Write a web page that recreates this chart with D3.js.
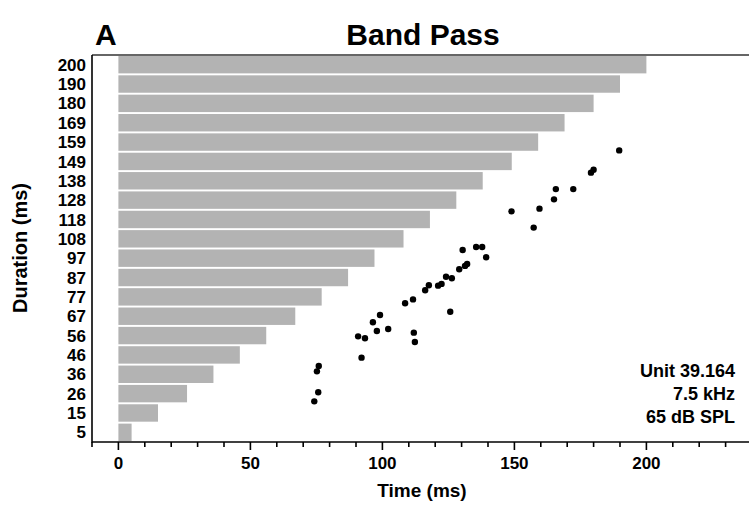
<!DOCTYPE html>
<html>
<head>
<meta charset="utf-8">
<script src="https://cdn.jsdelivr.net/npm/d3@7"></script>
<style>
  html, body { margin: 0; padding: 0; background: #fff; }
  text { font-family: "Liberation Sans", Arial, Helvetica, sans-serif; font-weight: bold; fill: #000; }
</style>
</head>
<body>
<svg id="chart" width="749" height="506"></svg>
<script>
// ---- data ----
const durations = [5, 15, 26, 36, 46, 56, 67, 77, 87, 97, 108, 118, 128, 138, 149, 159, 169, 180, 190, 200];
const durationLabels = ["5","15","26","36","46","56","67","77","87","97","108","118","128","138","149","159","169","180","190","200"];
// spike times (ms) and their vertical trial position in row units (row i spans i..i+1, row 0 = 5 ms)
const spikeTimes = [189.7, 180.0, 179.0, 172.3, 165.7, 165.0, 159.5, 148.9, 157.3,
  130.4, 135.5, 137.8, 139.3, 132.1, 131.3, 129.1, 126.3, 124.1, 122.4, 121.1,
  117.6, 116.2, 111.6, 108.6, 125.7, 99.1, 96.4, 97.9, 102.2, 90.8, 93.4,
  111.9, 112.3, 92.1, 75.9, 75.2, 75.7, 74.2];
const spikeRows = [15.07, 14.07, 13.92, 13.07, 13.07, 12.54, 12.06, 11.92, 11.08,
  9.92, 10.08, 10.08, 9.55, 9.20, 9.10, 8.93, 8.46, 8.54, 8.17, 8.08,
  8.10, 7.84, 7.37, 7.17, 6.73, 6.56, 6.19, 5.74, 5.84, 5.46, 5.36,
  5.65, 5.17, 4.36, 3.93, 3.65, 2.57, 2.10];
const xTicksMajor = [0, 50, 100, 150, 200];
const xTicksAll = [-10,0,10,20,30,40,50,60,70,80,90,100,110,120,130,140,150,160,170,180,190,200,210,220,230,240];
const title = "Band Pass";
const panelLabel = "A";
const infoLines = ["Unit 39.164", "7.5 kHz", "65 dB SPL"];

(function () {
// ---- layout ----
const svg = d3.select("#chart");
const mLeft = 92, mRight = 749, mTop = 55, mBottom = 442;

const x = d3.scaleLinear().domain([-10, 240]).range([mLeft, mLeft + 250 * 2.64]);
const y = d3.scaleBand().domain(durations).range([mBottom, mTop]).paddingInner(0.1).paddingOuter(0.05);
const yRow = d3.scaleLinear().domain([0, 20]).range([mBottom, mTop]);

// bars
svg.append("g").selectAll("rect").data(durations).join("rect")
  .attr("x", x(0))
  .attr("y", d => y(d))
  .attr("width", d => x(d) - x(0))
  .attr("height", y.bandwidth())
  .attr("fill", "#b3b3b3");

// spikes
svg.append("g").selectAll("circle").data(spikeTimes).join("circle")
  .attr("cx", d => x(d))
  .attr("cy", (d, i) => yRow(spikeRows[i]))
  .attr("r", 3.2)
  .attr("fill", "#000");

// top frame line
svg.append("line")
  .attr("x1", mLeft).attr("x2", mRight).attr("y1", mTop).attr("y2", mTop)
  .attr("stroke", "#666").attr("stroke-width", 2);

// x axis
const xAxisG = svg.append("g").attr("transform", `translate(0,${mBottom})`);
xAxisG.append("line").attr("x1", mLeft).attr("x2", mRight).attr("y1", 0).attr("y2", 0)
  .attr("stroke", "#000").attr("stroke-width", 1.6);
xAxisG.selectAll("line.tick").data(xTicksAll).join("line")
  .attr("class", "tick")
  .attr("x1", d => x(d)).attr("x2", d => x(d))
  .attr("y1", 0).attr("y2", d => xTicksMajor.includes(d) ? 8 : 5)
  .attr("stroke", "#000").attr("stroke-width", 1.6);
xAxisG.selectAll("text").data(xTicksMajor).join("text")
  .attr("x", d => x(d)).attr("y", 27)
  .attr("text-anchor", "middle")
  .style("font-size", "17px")
  .text(d => d);

// y axis
svg.append("line").attr("x1", mLeft).attr("x2", mLeft).attr("y1", mTop).attr("y2", mBottom + 0.8)
  .attr("stroke", "#000").attr("stroke-width", 1.6);
svg.append("g").selectAll("text").data(durations).join("text")
  .attr("x", 86)
  .attr("y", d => y(d) + y.bandwidth() / 2)
  .attr("dy", "0.36em")
  .attr("text-anchor", "end")
  .style("font-size", "17px")
  .text((d, i) => durationLabels[i]);

// axis titles
svg.append("text").attr("x", 422).attr("y", 497).attr("text-anchor", "middle")
  .style("font-size", "19px").text("Time (ms)");
svg.append("text").attr("transform", "translate(27,248) rotate(-90)").attr("text-anchor", "middle")
  .style("font-size", "20px").text("Duration (ms)");

// titles
svg.append("text").attr("x", 95).attr("y", 45).style("font-size", "30px").text(panelLabel);
svg.append("text").attr("x", 423).attr("y", 45).attr("text-anchor", "middle")
  .style("font-size", "30px").text(title);

// info
svg.append("g").selectAll("text").data(infoLines).join("text")
  .attr("x", 735).attr("y", (d, i) => 377 + i * 23)
  .attr("text-anchor", "end")
  .style("font-size", "18px")
  .text(d => d);
})();
</script>
</body>
</html>
